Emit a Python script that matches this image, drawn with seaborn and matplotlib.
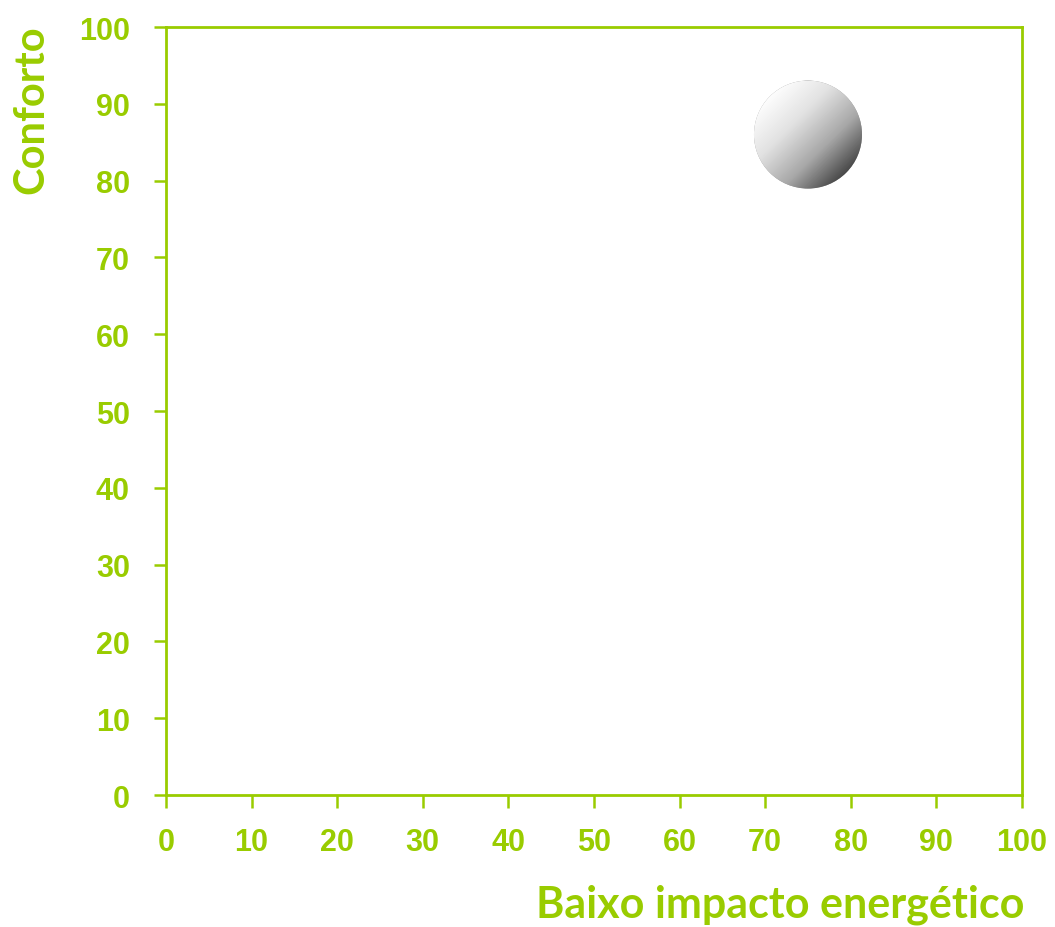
import numpy as np
import pandas as pd
import matplotlib
matplotlib.use("Agg")
import matplotlib.pyplot as plt
from matplotlib.colors import LinearSegmentedColormap
from matplotlib.patches import Ellipse
import seaborn as sns

# dados
impacto = [75]
conforto = [86]
ticks = list(range(0, 101, 10))

verde = "#99CC00"

sns.set_style("white")
plt.rcParams["font.family"] = ["Liberation Sans", "DejaVu Sans"]

df = pd.DataFrame({"Baixo impacto energético": impacto, "Conforto": conforto})

fig = plt.figure(figsize=(10.55, 9.28), dpi=100)
ax = fig.add_axes([0.1573, 0.1422, 0.8114, 0.8276])

sns.scatterplot(data=df, x="Baixo impacto energético", y="Conforto", s=6047,
                color="#999999", edgecolor="none", ax=ax, legend=False, zorder=2)

ax.set_xlim(0, 100)
ax.set_ylim(0, 100)

# gradiente da bolha
rx, ry = 12.62 / 2, 14.06 / 2
yy, xx = np.mgrid[1:-1:200j, -1:1:200j]
grad = (xx - yy) / 2  # -1 canto sup-esq, +1 canto inf-dir
grad = np.clip((grad + 0.75) / 1.5, 0, 1)
cmap = LinearSegmentedColormap.from_list("esfera", ["#ffffff", "#e2e2e2", "#a8a8a8", "#3e3e3e"])
for x0, y0 in zip(impacto, conforto):
    im = ax.imshow(grad, cmap=cmap, extent=[x0 - rx, x0 + rx, y0 - ry, y0 + ry],
                   aspect="auto", zorder=3, interpolation="bilinear")
    clip = Ellipse((x0, y0), 2 * rx, 2 * ry, transform=ax.transData)
    im.set_clip_path(clip)
ax.set_xlim(0, 100)
ax.set_ylim(0, 100)

ax.set_xticks(ticks)
ax.set_yticks(ticks)
ax.tick_params(axis="both", bottom=True, left=True, colors=verde, length=9, width=1.8,
               direction="out", labelsize=22)
ax.tick_params(axis="x", pad=14)
ax.tick_params(axis="y", pad=17)
for lab in ax.get_xticklabels() + ax.get_yticklabels():
    lab.set_fontweight("bold")
    lab.set_color(verde)
for sp in ax.spines.values():
    sp.set_color(verde)
    sp.set_linewidth(2)
    sp.set_visible(True)

ax.set_xlabel("")
ax.set_ylabel("")
ax.text(1.003, -0.142, "Baixo impacto energético", transform=ax.transAxes,
        ha="right", va="center", fontsize=31, fontweight="bold", color=verde,
        family=["Lato", "DejaVu Sans"])
ax.text(-0.157, 1.004, "Conforto", transform=ax.transAxes, rotation=90,
        ha="center", va="top", fontsize=30, fontweight="bold", color=verde,
        family=["Lato", "DejaVu Sans"])

fig.savefig("out.png", dpi=100, facecolor="white")
